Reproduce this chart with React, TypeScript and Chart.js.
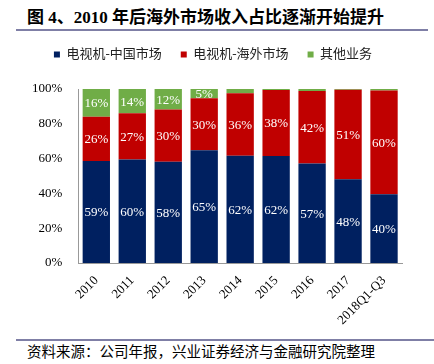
import React, { useEffect, useRef } from 'react';
import { Chart, registerables } from 'chart.js';

Chart.register(...registerables);

const categories = ['2010', '2011', '2012', '2013', '2014', '2015', '2016', '2017', '2018Q1-Q3'];
const domestic = [58.6, 59.5, 58.2, 64.8, 61.6, 61.5, 57.2, 48.2, 39.6];
const overseas = [25.5, 26.6, 30.0, 29.9, 36.0, 37.9, 41.7, 51.3, 59.5];
const other = [15.9, 13.9, 11.8, 5.3, 2.4, 0.6, 1.1, 0.5, 0.9];
const seriesNames = ['电视机-中国市场', '电视机-海外市场', '其他业务'];
const seriesColors = ['#002060', '#C00000', '#70AD47'];

const FONT = "'Liberation Serif', 'Times New Roman', 'Noto Sans CJK SC', serif";

const labelPlugin = {
  id: 'barLabels',
  afterDatasetsDraw(chart: any) {
    const ctx = chart.ctx;
    ctx.save();
    ctx.font = `13px ${FONT}`;
    ctx.fillStyle = '#ffffff';
    ctx.textAlign = 'center';
    ctx.textBaseline = 'middle';
    chart.data.datasets.forEach((ds: any, i: number) => {
      const meta = chart.getDatasetMeta(i);
      meta.data.forEach((bar: any, j: number) => {
        const v = ds.data[j];
        if (v < 3) return;
        const p = bar.getProps(['x', 'y', 'base'], true);
        ctx.fillText(Math.round(v) + '%', p.x, (p.y + p.base) / 2 + 1);
      });
    });
    ctx.restore();
  },
};

const legendSpacer = {
  id: 'legendSpacer',
  beforeInit(chart: any) {
    const orig = chart.legend.fit;
    chart.legend.fit = function () {
      orig.call(this);
      this.height += 18;
    };
  },
};

export default function App() {
  const ref = useRef<HTMLCanvasElement>(null);
  useEffect(() => {
    if (!ref.current) return;
    const chart = new Chart(ref.current, {
      type: 'bar',
      data: {
        labels: categories,
        datasets: [domestic, overseas, other].map((d, i) => ({
          label: seriesNames[i],
          data: d,
          backgroundColor: seriesColors[i],
          borderWidth: 0,
          categoryPercentage: 0.8,
          barPercentage: 0.95,
        })),
      },
      options: {
        animation: false,
        responsive: false,
        maintainAspectRatio: false,
        layout: { padding: { left: 24, right: 32, top: 0, bottom: 0 } },
        plugins: {
          legend: {
            position: 'top',
            labels: {
              boxWidth: 6,
              boxHeight: 6,
              padding: 19,
              color: '#222',
              font: { family: FONT, size: 13 },
            },
          },
          tooltip: { enabled: false },
        },
        scales: {
          x: {
            stacked: true,
            grid: { display: false },
            border: { display: true, color: '#999999', width: 1 },
            ticks: {
              minRotation: 45,
              maxRotation: 45,
              color: '#000',
              padding: 2,
              font: { family: FONT, size: 13 },
            },
          },
          y: {
            stacked: true,
            min: 0,
            max: 100,
            grid: { display: false },
            border: { display: true, color: '#999999', width: 1 },
            ticks: {
              stepSize: 20,
              color: '#000',
              padding: 8,
              font: { family: FONT, size: 13 },
              callback: (v: any) => v + '%',
            },
          },
        },
      },
      plugins: [labelPlugin, legendSpacer],
    });
    return () => chart.destroy();
  }, []);

  return (
    <div style={{ position: 'fixed', left: 0, top: 0, width: 434, height: 364, background: '#fff', overflow: 'hidden' }}>
      <div
        style={{
          position: 'absolute',
          left: 27,
          top: 8,
          fontFamily: FONT,
          fontWeight: 'bold',
          fontSize: 17,
          lineHeight: '20px',
          color: '#000',
          whiteSpace: 'nowrap',
        }}
      >
        图 4、2010 年后海外市场收入占比逐渐开始提升
      </div>
      <div style={{ position: 'absolute', left: 16, top: 29, width: 412, height: 2, background: '#7F7FA6' }} />
      <canvas ref={ref} width={434} height={301} style={{ position: 'absolute', left: 0, top: 29, width: 434, height: 301 }} />
      <div style={{ position: 'absolute', left: 16, top: 339, width: 418, height: 2, background: '#7F7FA6' }} />
      <div
        style={{
          position: 'absolute',
          left: 27,
          top: 344,
          fontFamily: FONT,
          fontSize: 14.5,
          lineHeight: '16px',
          color: '#000',
          whiteSpace: 'nowrap',
        }}
      >
        资料来源：公司年报，兴业证券经济与金融研究院整理
      </div>
    </div>
  );
}
